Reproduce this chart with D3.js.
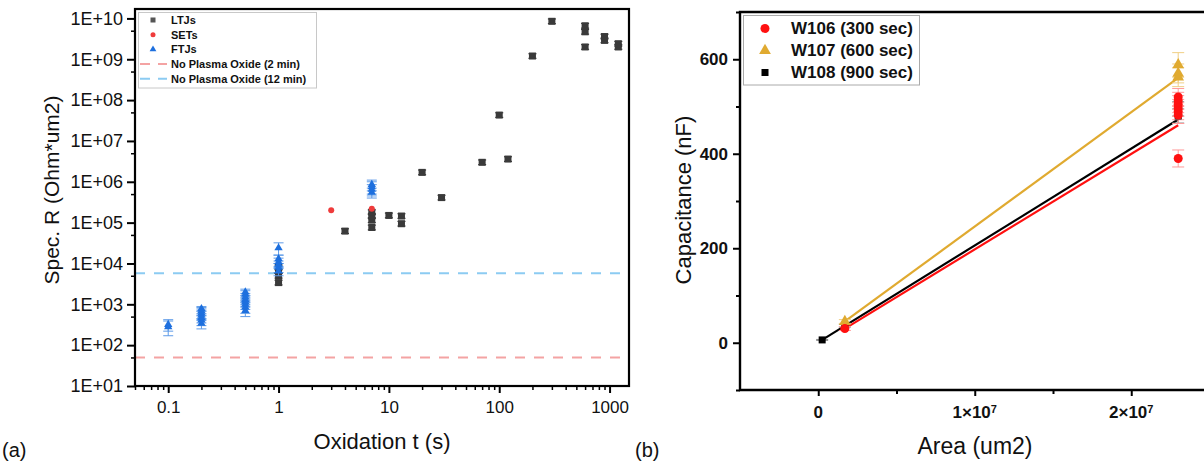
<!DOCTYPE html>
<html><head><meta charset="utf-8">
<script src="https://cdn.jsdelivr.net/npm/d3@7"></script>
<style>body{margin:0;background:#fff;} svg{display:block;font-family:Arial,"Liberation Sans",sans-serif;}</style>
</head><body><svg id="c" width="1204" height="467"></svg>
<script>
// ---------- Panel (a) data ----------
const ltjT = [1, 1, 1, 1, 4, 7, 7, 7, 7, 10, 13, 13, 20, 30, 70, 100, 120, 200, 300, 600, 600, 600, 900, 900, 1200, 1200];
const ltjR = [3.4e3, 5.0e3, 6.5e3, 8.0e3, 6.2e4, 7.6e4, 1.15e5, 1.45e5, 1.8e5, 1.5e5, 9.4e4, 1.45e5, 1.7e6, 4.1e5, 3.0e6, 4.3e7, 3.6e6, 1.2e9, 8.5e9, 2.0e9, 4.7e9, 6.6e9, 2.9e9, 3.6e9, 2.0e9, 2.4e9];
const setT = [3, 7];
const setR = [2.0e5, 2.2e5];
const ftjT = [0.1, 0.1, 0.2, 0.2, 0.2, 0.2, 0.2, 0.2, 0.2, 0.5, 0.5, 0.5, 0.5, 0.5, 0.5, 0.5, 0.5, 1, 1, 1, 1, 1, 1, 7, 7, 7, 7];
const ftjR = [280, 320, 340, 410, 470, 540, 610, 690, 780, 700, 850, 1000, 1150, 1300, 1500, 1750, 2000, 6500, 8000, 9500, 1.1e4, 1.3e4, 2.4e4, 5.5e5, 6.5e5, 7.5e5, 8.5e5];
const ftjE = [110, 100, 90, 110, 120, 140, 160, 150, 100, 200, 250, 250, 300, 300, 350, 400, 350, 1500, 2000, 2000, 2500, 3000, 8000, 1.5e5, 2.0e5, 2.5e5, 2.5e5];
const refLabels = ["No Plasma Oxide (2 min)", "No Plasma Oxide (12 min)"];
const refValues = [50, 5800];
const legendA = ["LTJs", "SETs", "FTJs"];
const xTicksA = [0.1, 1, 10, 100, 1000];
const xTickLabelsA = ["0.1", "1", "10", "100", "1000"];
const yTicksA = [1e1, 1e2, 1e3, 1e4, 1e5, 1e6, 1e7, 1e8, 1e9, 1e10];
const yTickLabelsA = ["1E+01", "1E+02", "1E+03", "1E+04", "1E+05", "1E+06", "1E+07", "1E+08", "1E+09", "1E+10"];

// ---------- Panel (b) data ----------
const seriesNames = ["W106 (300 sec)", "W107 (600 sec)", "W108 (900 sec)"];
const w106Area = [1.7e6, 2.3e7, 2.3e7, 2.3e7, 2.3e7, 2.3e7, 2.3e7, 2.3e7];
const w106Cap = [30, 520, 512, 505, 497, 490, 482, 390];
const w106Err = [4, 18, 18, 18, 18, 18, 18, 18];
const w107Area = [1.7e6, 2.3e7, 2.3e7, 2.3e7];
const w107Cap = [45, 588, 570, 562];
const w107Err = [4, 26, 20, 20];
const w108Area = [2.5e5, 1.7e6, 2.3e7, 2.3e7];
const w108Cap = [6, 36, 495, 480];
const w108Err = [1, 3, 15, 15];
const fitSlope = [2.02e-5, 2.42e-5, 2.05e-5];
const fitIntercept = [-4.4, 4.0, 0.9];
const fitStart = [1.7e6, 1.7e6, 2.5e5];
const fitEnd = [2.3e7, 2.3e7, 2.3e7];
const xTicksB = [0, 1e7, 2e7];
const xTickExpB = ["", "7", "7"];
const xTickMantB = ["0", "1×10", "2×10"];
const yTicksB = [0, 200, 400, 600];

const svg = d3.select("#c");

// ================= Panel (a) =================
const A = {l: 135, r: 629, t: 9, b: 386};
const xa = d3.scaleLog().domain([0.05, 1500]).range([A.l, A.r]);
const ya = d3.scaleLog().domain([10, 1.7e10]).range([A.b, A.t]);
const ga = svg.append("g");

// reference dashed lines
const refColors = ["#f4a3a3", "#8ccbf2"];
refValues.forEach((v, i) => {
  ga.append("line").attr("x1", A.l).attr("x2", A.r).attr("y1", ya(v)).attr("y2", ya(v))
    .attr("stroke", refColors[i]).attr("stroke-width", 2).attr("stroke-dasharray", "10,9");
});

// minor ticks
const xMinorA = [];
for (let e = -2; e <= 3; e++) for (let k = 2; k <= 9; k++) { const v = k * Math.pow(10, e); if (v >= 0.05 && v <= 1500) xMinorA.push(v); }
const yMinorA = [];
for (let e = 1; e <= 9; e++) yMinorA.push(5 * Math.pow(10, e));

const xAxisA = d3.axisBottom(xa).tickValues(xTicksA).tickFormat((d, i) => xTickLabelsA[i]).tickSize(7).tickPadding(8);
const gxA = ga.append("g").attr("transform", `translate(0,${A.b})`).call(xAxisA);
gxA.selectAll(".domain").remove();
gxA.selectAll("line").attr("stroke-width", 2);
gxA.selectAll("text").attr("font-size", 17).attr("fill", "#111").attr("font-family", "Arial, Liberation Sans");
ga.append("g").attr("transform", `translate(0,${A.b})`).call(d3.axisBottom(xa).tickValues(xMinorA).tickFormat("").tickSize(4))
  .call(g => { g.select(".domain").remove(); g.selectAll("line").attr("stroke-width", 1.5); });

const yAxisA = d3.axisLeft(ya).tickValues(yTicksA).tickFormat((d, i) => yTickLabelsA[i]).tickSize(8).tickPadding(4);
const gyA = ga.append("g").attr("transform", `translate(${A.l},0)`).call(yAxisA);
gyA.selectAll(".domain").remove();
gyA.selectAll("line").attr("stroke-width", 2);
gyA.selectAll("text").attr("font-size", 18).attr("fill", "#111").attr("font-family", "Arial, Liberation Sans");
ga.append("g").attr("transform", `translate(${A.l},0)`).call(d3.axisLeft(ya).tickValues(yMinorA).tickFormat("").tickSize(4))
  .call(g => { g.select(".domain").remove(); g.selectAll("line").attr("stroke-width", 1.5); });

// frame
ga.append("rect").attr("x", A.l).attr("y", A.t).attr("width", A.r - A.l).attr("height", A.b - A.t)
  .attr("fill", "none").attr("stroke", "#000").attr("stroke-width", 2.2);

// LTJs
const ltjCol = "#3a3a3a";
const ltj = ltjT.map((t, i) => ({t, r: ltjR[i]}));
const gl = ga.append("g");
ltj.forEach(d => {
  const x = xa(d.t), y1 = ya(d.r * 1.14), y2 = ya(d.r / 1.14);
  gl.append("line").attr("x1", x).attr("x2", x).attr("y1", y1).attr("y2", y2).attr("stroke", ltjCol).attr("stroke-width", 1.2);
  [y1, y2].forEach(yy => gl.append("line").attr("x1", x - 4).attr("x2", x + 4).attr("y1", yy).attr("y2", yy).attr("stroke", ltjCol).attr("stroke-width", 1.2));
  gl.append("rect").attr("x", x - 3.5).attr("y", ya(d.r) - 3.5).attr("width", 7).attr("height", 7).attr("fill", ltjCol);
});
// SETs
ga.append("g").selectAll("circle").data(setT.map((t, i) => ({t, r: setR[i]}))).join("circle")
  .attr("cx", d => xa(d.t)).attr("cy", d => ya(d.r)).attr("r", 3).attr("fill", "#ef3b3b");
// FTJs
const ftjCol = "#1d6fde", ftjErrCol = "#5e9be8";
const gf = ga.append("g");
const tri = d3.symbol().type(d3.symbolTriangle).size(30);
ftjT.forEach((t, i) => {
  const x = xa(t), y1 = ya(ftjR[i] + ftjE[i]), y2 = ya(Math.max(ftjR[i] - ftjE[i], 1));
  gf.append("line").attr("x1", x).attr("x2", x).attr("y1", y1).attr("y2", y2).attr("stroke", ftjErrCol).attr("stroke-width", 1);
  [y1, y2].forEach(yy => gf.append("line").attr("x1", x - 5).attr("x2", x + 5).attr("y1", yy).attr("y2", yy).attr("stroke", ftjErrCol).attr("stroke-width", 1));
});
ftjT.forEach((t, i) => {
  gf.append("path").attr("d", tri).attr("transform", `translate(${xa(t)},${ya(ftjR[i])})`).attr("fill", ftjCol);
});

// legend (a)
const lg = ga.append("g");
lg.append("rect").attr("x", 138.5).attr("y", 12.5).attr("width", 178).attr("height", 75.5).attr("fill", "#fff").attr("stroke", "#c8c8c8").attr("stroke-width", 1);
const lgY = [20, 34.7, 49.4, 64.1, 78.8];
lg.append("rect").attr("x", 150.5).attr("y", lgY[0] - 2.5).attr("width", 5).attr("height", 5).attr("fill", "#555");
lg.append("circle").attr("cx", 153).attr("cy", lgY[1]).attr("r", 2.5).attr("fill", "#ef3b3b");
lg.append("path").attr("d", d3.symbol().type(d3.symbolTriangle).size(20)).attr("transform", `translate(153,${lgY[2]})`).attr("fill", ftjCol);
refValues.forEach((v, i) => {
  lg.append("line").attr("x1", 140).attr("x2", 167).attr("y1", lgY[3 + i]).attr("y2", lgY[3 + i])
    .attr("stroke", refColors[i]).attr("stroke-width", 2).attr("stroke-dasharray", "10,8");
});
legendA.concat(refLabels).forEach((s, i) => {
  lg.append("text").attr("x", 171).attr("y", lgY[i]).attr("dy", "0.35em").attr("font-size", 11).attr("font-weight", "bold").attr("fill", "#111").text(s);
});

// titles (a)
ga.append("text").attr("x", (A.l + A.r) / 2).attr("y", 441).attr("dy", "0.35em").attr("text-anchor", "middle").attr("font-size", 22).attr("fill", "#111").text("Oxidation t (s)");
ga.append("text").attr("transform", `translate(52,190) rotate(-90)`).attr("dy", "0.35em").attr("text-anchor", "middle").attr("font-size", 21).attr("fill", "#111").text("Spec. R (Ohm*um2)");
svg.append("text").attr("x", 2).attr("y", 450).attr("dy", "0.35em").attr("font-size", 20).attr("fill", "#111").text("(a)");

// ================= Panel (b) =================
const B = {l: 740, r: 1209.5, t: 12, b: 390};
const xb = d3.scaleLinear().domain([-5e6, 2.5e7]).range([B.l, B.r]);
const yb = d3.scaleLinear().domain([-100, 700]).range([B.b, B.t]);
const gb = svg.append("g");

const gxB = gb.append("g").attr("transform", `translate(0,${B.b})`).call(d3.axisBottom(xb).tickValues(xTicksB).tickFormat("").tickSize(6));
gxB.selectAll(".domain").remove();
gxB.selectAll("line").attr("stroke-width", 2);
gb.append("g").attr("transform", `translate(0,${B.b})`).call(d3.axisBottom(xb).tickValues([5e6, 1.5e7]).tickFormat("").tickSize(4))
  .call(g => { g.select(".domain").remove(); g.selectAll("line").attr("stroke-width", 2); });
xTicksB.forEach((v, i) => {
  const t = gb.append("text").attr("x", xb(v)).attr("y", 412).attr("dy", "0.35em").attr("text-anchor", "middle")
    .attr("font-size", 17).attr("font-weight", "bold").attr("fill", "#111");
  t.append("tspan").text(xTickMantB[i]);
  if (xTickExpB[i]) t.append("tspan").attr("dy", "-0.45em").attr("font-size", 11).text(xTickExpB[i]);
});

const gyB = gb.append("g").attr("transform", `translate(${B.l},0)`).call(d3.axisLeft(yb).tickValues(yTicksB).tickSize(7).tickPadding(5));
gyB.selectAll(".domain").remove();
gyB.selectAll("line").attr("stroke-width", 2);
gyB.selectAll("text").attr("font-size", 17).attr("font-weight", "bold").attr("fill", "#111").attr("font-family", "Arial, Liberation Sans");
gb.append("g").attr("transform", `translate(${B.l},0)`).call(d3.axisLeft(yb).tickValues([-100, 100, 300, 500, 700]).tickFormat("").tickSize(4))
  .call(g => { g.select(".domain").remove(); g.selectAll("line").attr("stroke-width", 2); });

gb.append("path").attr("d", `M${B.r},${B.t}H${B.l}V${B.b}H${B.r}V${B.t}`).attr("fill", "none").attr("stroke", "#000").attr("stroke-width", 2.4);

const colB = ["#ff1010", "#e0aa30", "#000000"];
const errColB = ["#ff9a9a", "#f0cf85", "#888"];
const sets = [
  {a: w106Area, c: w106Cap, e: w106Err},
  {a: w107Area, c: w107Cap, e: w107Err},
  {a: w108Area, c: w108Cap, e: w108Err}
];
// fit lines
[2, 0, 1].forEach(i => {
  gb.append("line").attr("x1", xb(fitStart[i])).attr("x2", xb(fitEnd[i]))
    .attr("y1", yb(fitSlope[i] * fitStart[i] + fitIntercept[i])).attr("y2", yb(fitSlope[i] * fitEnd[i] + fitIntercept[i]))
    .attr("stroke", colB[i]).attr("stroke-width", 2.2);
});
// error bars + markers
const markers = [
  (g, x, y, c) => g.append("circle").attr("cx", x).attr("cy", y).attr("r", 4.5).attr("fill", c),
  (g, x, y, c) => g.append("path").attr("d", d3.symbol().type(d3.symbolTriangle).size(60)).attr("transform", `translate(${x},${y})`).attr("fill", c),
  (g, x, y, c) => g.append("rect").attr("x", x - 3.5).attr("y", y - 3.5).attr("width", 7).attr("height", 7).attr("fill", c)
];
[2, 1, 0].forEach(i => {
  const s = sets[i];
  s.a.forEach((a, j) => {
    const x = xb(a), y1 = yb(s.c[j] + s.e[j]), y2 = yb(s.c[j] - s.e[j]);
    gb.append("line").attr("x1", x).attr("x2", x).attr("y1", y1).attr("y2", y2).attr("stroke", errColB[i]).attr("stroke-width", 1);
    [y1, y2].forEach(yy => gb.append("line").attr("x1", x - 6).attr("x2", x + 6).attr("y1", yy).attr("y2", yy).attr("stroke", errColB[i]).attr("stroke-width", 1));
  });
});
[2, 1, 0].forEach(i => {
  const s = sets[i];
  s.a.forEach((a, j) => markers[i](gb, xb(a), yb(s.c[j]), colB[i]));
});

// legend (b)
const lb = gb.append("g");
lb.append("rect").attr("x", 743.5).attr("y", 15.5).attr("width", 176).attr("height", 69.5).attr("fill", "#fff").attr("stroke", "#aaa").attr("stroke-width", 1);
const lbY = [28.5, 50.5, 72.5];
seriesNames.forEach((s, i) => {
  markers[i](lb, 765, lbY[i], colB[i]);
  lb.append("text").attr("x", 791).attr("y", lbY[i]).attr("dy", "0.35em").attr("font-size", 17).attr("font-weight", "bold").attr("fill", "#111").text(s);
});

gb.append("text").attr("x", 975).attr("y", 446).attr("dy", "0.35em").attr("text-anchor", "middle").attr("font-size", 23).attr("fill", "#111").text("Area (um2)");
gb.append("text").attr("transform", `translate(683,200) rotate(-90)`).attr("dy", "0.35em").attr("text-anchor", "middle").attr("font-size", 22).attr("fill", "#111").text("Capacitance (nF)");
svg.append("text").attr("x", 635).attr("y", 450).attr("dy", "0.35em").attr("font-size", 20).attr("fill", "#111").text("(b)");
</script></body></html>
